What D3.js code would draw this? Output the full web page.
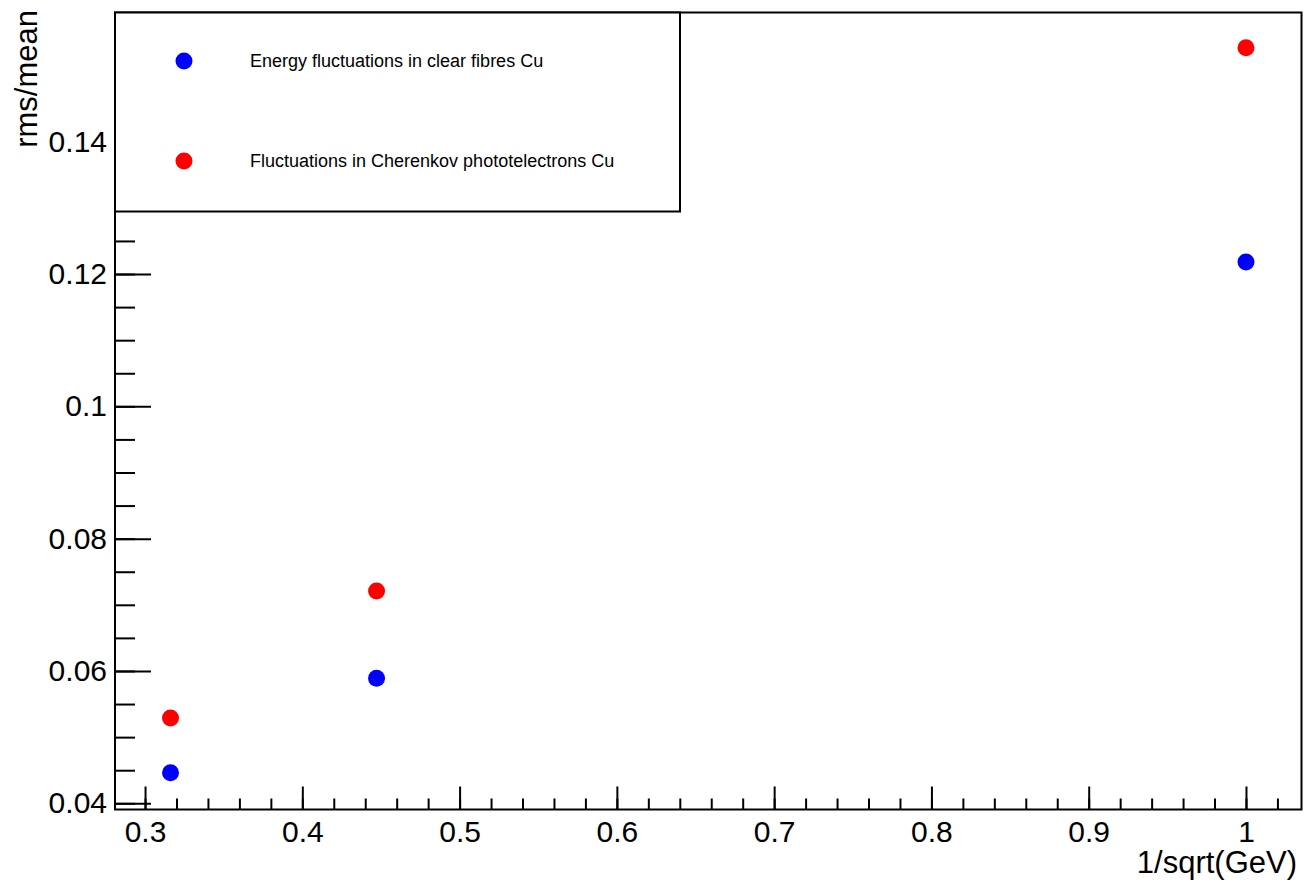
<!DOCTYPE html>
<meta charset="utf-8">
<style>
body {
  margin: 0;
  background: #fff;
  font-family: "Liberation Sans", Arial, Helvetica, sans-serif;
}
svg { display: block; }
.tick text {
  font-family: "Liberation Sans", Arial, Helvetica, sans-serif;
  font-size: 30px;
  fill: #000;
}
.tick line { stroke: #000; stroke-width: 2px; }
.title { font-size: 31px; }
.legend text { font-size: 18px; }
</style>
<body>
<script src="https://cdn.jsdelivr.net/npm/d3@7"></script>
<script>

// values
var xVals = [0.3162, 0.4472, 1.0];
var fibreVals = [0.0446, 0.0589, 0.1218];
var cherenkovVals = [0.0529, 0.0721, 0.1542];

var seriesNames = ["Energy fluctuations in clear fibres Cu",
                   "Fluctuations in Cherenkov phototelectrons Cu"];
var seriesColors = ["#0000ff", "#ff0000"];

var xMajor = [0.3, 0.4, 0.5, 0.6, 0.7, 0.8, 0.9, 1];
var yMajor = [0.04, 0.06, 0.08, 0.1, 0.12, 0.14];

var width = 1305,
    height = 882;

var frame = {left: 115, top: 12.5, right: 1301.5, bottom: 809.5};

var svg = d3.select("body").append("svg")
    .attr("width", width)
    .attr("height", height);

var x = d3.scaleLinear()
    .domain([0.2809, 1.0353])
    .range([frame.left, frame.right]);

var y = d3.scaleLinear()
    .domain([0.03906, 0.15953])
    .range([frame.bottom, frame.top]);

// minor ticks
var xMinor = d3.range(0.28, 1.04, 0.02).filter(function(v) {
    return v >= x.domain()[0] && v <= x.domain()[1];
});
var yMinor = d3.range(0.035, 0.165, 0.005).filter(function(v) {
    return v >= y.domain()[0] && v <= y.domain()[1];
});

svg.append("g")
    .attr("transform", "translate(0," + frame.bottom + ")")
    .call(d3.axisBottom(x).tickValues(xMinor).tickSize(-11).tickFormat(""))
    .call(function(g) { g.select(".domain").remove(); });

svg.append("g")
    .attr("transform", "translate(0," + frame.bottom + ")")
    .call(d3.axisBottom(x).tickValues(xMajor).tickSize(-23).tickPadding(11)
        .tickFormat(function(d) { return d3.format("")(+d.toFixed(2)); }))
    .call(function(g) { g.select(".domain").remove(); });

svg.append("g")
    .attr("transform", "translate(" + frame.left + ",0)")
    .call(d3.axisLeft(y).tickValues(yMinor).tickSize(-20).tickFormat(""))
    .call(function(g) { g.select(".domain").remove(); });

svg.append("g")
    .attr("transform", "translate(" + frame.left + ",0)")
    .call(d3.axisLeft(y).tickValues(yMajor).tickSize(-36).tickPadding(8)
        .tickFormat(function(d) { return d3.format("")(+d.toFixed(2)); }))
    .call(function(g) { g.select(".domain").remove(); });

// frame
svg.append("rect")
    .attr("x", frame.left)
    .attr("y", frame.top)
    .attr("width", frame.right - frame.left)
    .attr("height", frame.bottom - frame.top)
    .attr("fill", "none")
    .attr("stroke", "#000")
    .attr("stroke-width", 2);

// axis titles
svg.append("text")
    .attr("class", "title")
    .attr("x", 1297)
    .attr("y", 873)
    .attr("text-anchor", "end")
    .text("1/sqrt(GeV)");

svg.append("text")
    .attr("class", "title")
    .attr("transform", "translate(37,10) rotate(-90)")
    .attr("text-anchor", "end")
    .text("rms/mean");

// points
var series = [fibreVals, cherenkovVals];
series.forEach(function(vals, s) {
    svg.append("g").selectAll("circle")
        .data(vals)
        .enter().append("circle")
        .attr("cx", function(d, i) { return x(xVals[i]); })
        .attr("cy", function(d) { return y(d); })
        .attr("r", 8.5)
        .attr("fill", seriesColors[s]);
});

// legend
var legend = svg.append("g").attr("class", "legend");
legend.append("rect")
    .attr("x", frame.left)
    .attr("y", frame.top)
    .attr("width", 680 - frame.left)
    .attr("height", 211.5 - frame.top)
    .attr("fill", "#fff")
    .attr("stroke", "#000")
    .attr("stroke-width", 2);

var entry = legend.selectAll(".entry")
    .data(seriesNames)
    .enter().append("g")
    .attr("class", "entry")
    .attr("transform", function(d, i) { return "translate(0," + (61 + i * 100) + ")"; });

entry.append("circle")
    .attr("cx", 184)
    .attr("r", 8.5)
    .attr("fill", function(d, i) { return seriesColors[i]; });

entry.append("text")
    .attr("x", 250)
    .attr("dy", "0.35em")
    .text(function(d) { return d; });

</script>
</body>
